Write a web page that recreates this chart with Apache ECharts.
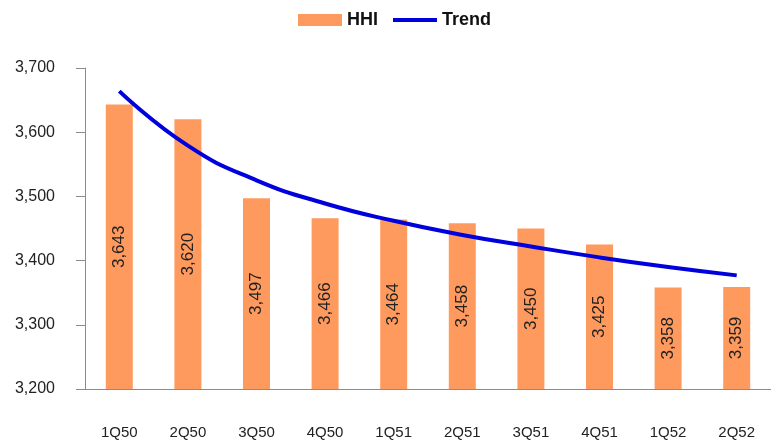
<!DOCTYPE html>
<html>
<head>
<meta charset="utf-8">
<script src="https://cdn.jsdelivr.net/npm/echarts@6/dist/echarts.min.js"></script>
<style>
  html, body { margin: 0; padding: 0; background: #fff; }
  #chart { width: 771px; height: 441px; }
</style>
</head>
<body>
<div id="chart"></div>
<script>
// 季度类目
const quarters = ['1Q50', '2Q50', '3Q50', '4Q50', '1Q51', '2Q51', '3Q51', '4Q51', '1Q52', '2Q52']
// HHI 柱状值
const hhiValues = [3643, 3620, 3497, 3466, 3464, 3458, 3450, 3425, 3358, 3359]
// 趋势线
const trendValues = [3664, 3579, 3525, 3489, 3462, 3440, 3422, 3405, 3390, 3377]
// y 轴范围
const yMin = 3200
const yMax = 3700
const yStep = 100

const fmt = v => v.toLocaleString('en-US')
const font = 'Arial, "Liberation Sans", sans-serif'
const lineColor = '#0000DD'

const chart = echarts.init(document.getElementById('chart'))
chart.setOption({
  animation: false,
  textStyle: { fontFamily: font },
  legend: {
    top: 6,
    left: 293,
    itemGap: 15,
    itemWidth: 44,
    itemHeight: 12,
    textStyle: { fontSize: 18, fontWeight: 'bold', color: '#111', fontFamily: font },
    data: [
      { name: 'HHI', icon: 'rect' },
      // 粗线图例（去掉圆点）
      { name: 'Trend', icon: 'path://M0,0 L0,0 M0,12 L0,12 M0,4 L46,4 L46,8 L0,8 Z', itemStyle: { color: lineColor } }
    ]
  },
  grid: { left: 85, right: -8, top: 68, bottom: 52 },
  xAxis: {
    type: 'category',
    data: quarters,
    axisLine: { lineStyle: { color: '#8c8c8c', width: 1 } },
    axisTick: { show: false },
    axisLabel: { color: '#222', fontSize: 15, margin: 36 }
  },
  yAxis: {
    type: 'value',
    min: yMin,
    max: yMax,
    interval: yStep,
    splitLine: { show: false },
    axisLine: { show: true, lineStyle: { color: '#8c8c8c', width: 1 } },
    axisTick: { show: true, length: 9, lineStyle: { color: '#8c8c8c' } },
    axisLabel: { color: '#222', fontSize: 16, margin: 30, formatter: fmt }
  },
  series: [
    {
      name: 'HHI',
      type: 'bar',
      data: hhiValues,
      barWidth: 27,
      itemStyle: { color: '#FF9A5E' },
      label: {
        show: true,
        position: 'inside',
        rotate: 90,
        color: '#222',
        fontSize: 17,
        formatter: p => fmt(p.value)
      }
    },
    {
      name: 'Trend',
      type: 'line',
      data: trendValues,
      smooth: true,
      symbol: 'none',
      lineStyle: { color: lineColor, width: 4 },
      itemStyle: { color: lineColor },
      z: 3
    }
  ]
})
</script>
</body>
</html>
